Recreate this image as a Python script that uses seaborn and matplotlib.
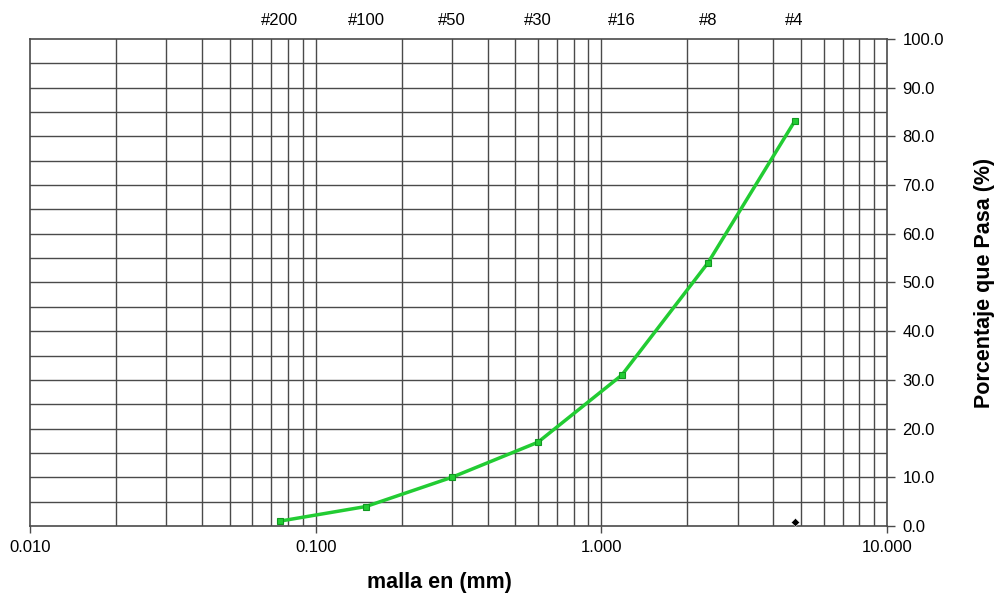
import matplotlib
matplotlib.use("Agg")
import matplotlib.pyplot as plt
import seaborn as sns
import numpy as np
import pandas as pd
from matplotlib.ticker import FixedLocator, NullFormatter, NullLocator

sns.set_style("white")
plt.rcParams['font.family'] = ['Liberation Sans', 'DejaVu Sans']
plt.rcParams['text.color'] = 'black'
plt.rcParams['axes.labelcolor'] = 'black'
plt.rcParams['xtick.color'] = 'black'
plt.rcParams['ytick.color'] = 'black'

# Data
sieve_labels = ["#200", "#100", "#50", "#30", "#16", "#8", "#4"]
sieve_mm = [0.075, 0.15, 0.30, 0.60, 1.18, 2.36, 4.75]
percent_pass = [1.0, 4.0, 10.0, 17.2, 31.0, 54.0, 83.1]
extra_x = [4.75]
extra_y = [0.9]
x_ticks = [0.01, 0.1, 1.0, 10.0]
x_ticklabels = ["0.010", "0.100", "1.000", "10.000"]
y_ticks = [0, 10, 20, 30, 40, 50, 60, 70, 80, 90, 100]

df = pd.DataFrame({"mm": sieve_mm, "pct": percent_pass})

fig = plt.figure(figsize=(10, 5.99), dpi=100)
ax = fig.add_axes([0.030, 0.1219, 0.857, 0.813])

ax.set_xscale("log")
ax.set_xlim(0.01, 10)
ax.set_ylim(0, 100)

# grid
minor = [m * 10.0 ** e for e in (-2, -1, 0) for m in range(2, 10)]
for v in minor + [0.1, 1.0]:
    ax.axvline(v, color="#4a4a4a", lw=1.0, zorder=1)
for h in np.arange(5, 100, 5):
    ax.axhline(h, color="#4a4a4a", lw=1.0, zorder=1)

sns.lineplot(data=df, x="mm", y="pct", ax=ax, sort=False, color="#22cc33",
             lw=2.5, marker="s", markersize=4.5, markeredgecolor="#119922",
             markeredgewidth=0.8, zorder=3, legend=False)
sns.scatterplot(x=extra_x, y=extra_y, ax=ax, marker="D", color="black",
                s=18, zorder=4, legend=False)

for sp in ax.spines.values():
    sp.set_color("#4a4a4a")
    sp.set_linewidth(1.2)

ax.xaxis.set_major_locator(FixedLocator(x_ticks))
ax.set_xticklabels(x_ticklabels)
ax.xaxis.set_minor_locator(NullLocator())
ax.xaxis.set_minor_formatter(NullFormatter())
ax.tick_params(axis="x", which="major", length=5, width=1, color="#4a4a4a",
               labelcolor="black", labelsize=12, pad=5, direction="out", bottom=True)

ax.yaxis.tick_right()
ax.set_yticks(y_ticks)
ax.set_yticklabels([f"{v:.1f}" for v in y_ticks])
ax.tick_params(axis="y", which="major", length=6, width=1, color="#4a4a4a",
               labelcolor="black", labelsize=12, pad=5, direction="out",
               right=True, left=False)

ax.set_xlabel("malla en (mm)", fontsize=15.5, fontweight="bold", color="black")
ax.xaxis.set_label_coords(0.478, -0.095)
ax.yaxis.set_label_position("right")
ax.set_ylabel("Porcentaje que Pasa (%)", fontsize=15.5, fontweight="bold",
              color="black", labelpad=22)

top = ax.secondary_xaxis("top")
top.xaxis.set_major_locator(FixedLocator(sieve_mm))
top.set_xticklabels(sieve_labels)
top.xaxis.set_minor_locator(NullLocator())
top.tick_params(axis="x", length=0, labelsize=12, pad=8, labelcolor="black")
top.spines["top"].set_visible(False)

fig.savefig("out.png", dpi=100)
